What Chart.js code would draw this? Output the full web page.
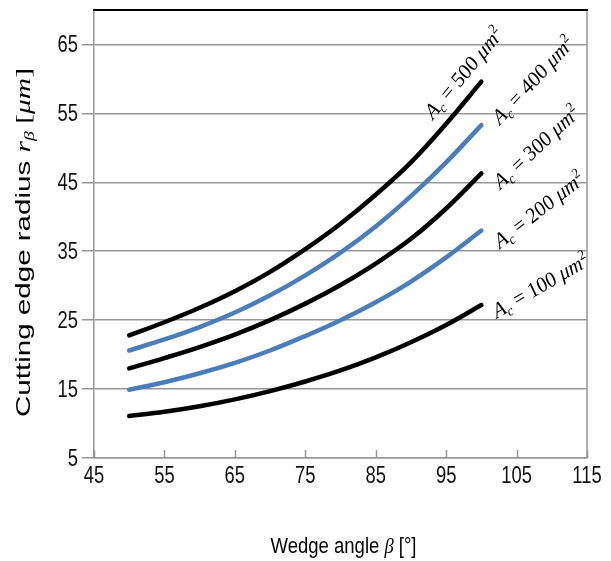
<!DOCTYPE html>
<html><head><meta charset="utf-8">
<script src="https://cdn.jsdelivr.net/npm/chart.js@4.4.1/dist/chart.umd.min.js"></script>
<style>html,body{margin:0;padding:0;background:#fff;}#wrap{width:611px;height:561px;}</style>
</head><body><div id="wrap"><canvas id="c" width="611" height="561"></canvas></div>
<script>
// ---- data ----
const wedgeAngles = [50,55,60,65,70,75,80,85,90,95,100];
const r500 = [22.8,24.7,26.8,29.2,32.0,35.3,39.0,43.2,47.9,53.5,59.6];
const r400 = [20.6,22.2,24.0,26.1,28.6,31.5,34.8,38.6,43.0,47.9,53.3];
const r300 = [18.0,19.5,21.1,22.9,25.0,27.4,30.1,33.2,36.8,41.2,46.3];
const r200 = [14.9,16.0,17.3,18.8,20.6,22.7,25.0,27.6,30.6,34.1,38.0];
const r100 = [11.1,11.7,12.5,13.5,14.7,16.1,17.7,19.6,21.8,24.3,27.2];
const areas = ['500','400','300','200','100'];
const xTicks = [45,55,65,75,85,95,105,115];
const yTicks = [5,15,25,35,45,55,65];

// ---- styling / annotation placement ----
const GRID = '#979797';
const BLUE = '#4A7EBB';
const SANS = "'Liberation Sans', Arial, sans-serif";
const SERIF = "'Liberation Serif', 'DejaVu Serif', serif";
const seriesList = [r500, r400, r300, r200, r100];
const colors = ['#000000', BLUE, '#000000', BLUE, '#000000'];
const STRETCH = 1.1;
const labelAnchors = [
  {x:93.1, y:54.0, rot:-47.3},
  {x:102.6, y:53.2, rot:-44.3},
  {x:102.7, y:43.9, rot:-40.3},
  {x:102.6, y:35.3, rot:-35.4},
  {x:102.2, y:25.2, rot:-27.7}
];

function drawParts(ctx, parts){
  let x = 0;
  parts.forEach(p => { ctx.font = p.f; ctx.fillText(p.t, x, p.dy || 0); x += ctx.measureText(p.t).width; });
  return x;
}
function measureParts(ctx, parts){
  let w = 0; parts.forEach(p => { ctx.font = p.f; w += ctx.measureText(p.t).width; }); return w;
}
function narrowText(ctx, text, x, y, align){
  ctx.save(); ctx.translate(x, y); ctx.scale(0.8, 1);
  ctx.font = '23px ' + SANS; ctx.textAlign = align; ctx.textBaseline = 'alphabetic';
  ctx.fillText(text, 0, 0); ctx.restore();
}

const framePlugin = {
  id: 'frame',
  beforeDatasetsDraw(chart){
    const {ctx, chartArea:a, scales:{x}} = chart;
    ctx.save();
    ctx.strokeStyle = GRID; ctx.lineWidth = 1.5;
    x.ticks.forEach(t => {
      const px = Math.round(x.getPixelForValue(t.value)) + 0.5;
      ctx.beginPath(); ctx.moveTo(px, a.bottom); ctx.lineTo(px, a.bottom - 8); ctx.stroke();
    });
    ctx.beginPath(); ctx.moveTo(a.right, a.top); ctx.lineTo(a.right, a.bottom); ctx.stroke();
    ctx.strokeStyle = '#000'; ctx.lineWidth = 2;
    ctx.beginPath(); ctx.moveTo(a.left - 1, a.top); ctx.lineTo(a.right + 1, a.top); ctx.stroke();
    ctx.restore();
  },
  afterDraw(chart){
    const {ctx, chartArea:a, scales:{x, y}} = chart;
    ctx.save();
    ctx.fillStyle = '#111';
    // tick labels
    x.ticks.forEach(t => narrowText(ctx, String(t.value), x.getPixelForValue(t.value), a.bottom + 25, 'center'));
    y.ticks.forEach(t => narrowText(ctx, String(t.value), a.left - 16, y.getPixelForValue(t.value) + 8, 'right'));
    ctx.fillStyle = '#000';
    ctx.textBaseline = 'alphabetic';
    ctx.textAlign = 'left';
    // curve labels
    areas.forEach((ac, i) => {
      const an = labelAnchors[i];
      const px = x.getPixelForValue(an.x), py = y.getPixelForValue(an.y);
      ctx.save();
      ctx.translate(px, py);
      ctx.scale(1, STRETCH);
      ctx.rotate(an.rot * Math.PI / 180);
      drawParts(ctx, [
        {t:'A', f:'italic 20px ' + SERIF},
        {t:'c', f:'italic 13px ' + SERIF, dy:4},
        {t:' = ' + ac + ' ', f:'20px ' + SERIF},
        {t:'μm', f:'italic 20px ' + SERIF},
        {t:'2', f:'13px ' + SERIF, dy:-8}
      ]);
      ctx.restore();
    });
    // y title
    const yParts = [
      {t:'Cutting edge radius ', f:'21px ' + SANS},
      {t:'r', f:'italic 21px ' + SERIF},
      {t:'β', f:'italic 14px ' + SERIF, dy:4},
      {t:' [', f:'21px ' + SERIF},
      {t:'μm', f:'italic 21px ' + SERIF},
      {t:']', f:'21px ' + SERIF}
    ];
    const yw = measureParts(ctx, yParts);
    ctx.save();
    ctx.translate(30, 417);
    ctx.rotate(-Math.PI / 2);
    ctx.scale(349 / yw, 1);
    drawParts(ctx, yParts);
    ctx.restore();
    // x title
    const xParts = [
      {t:'Wedge angle ', f:'22px ' + SANS},
      {t:'β', f:'italic 22px ' + SERIF},
      {t:' [°]', f:'22px ' + SANS}
    ];
    const xw = measureParts(ctx, xParts);
    const W = 146;
    ctx.save();
    ctx.translate((a.left + a.right) / 2 + 3 - W / 2, 553);
    ctx.scale(W / xw, 1);
    drawParts(ctx, xParts);
    ctx.restore();
    ctx.restore();
  }
};

const datasets = seriesList.map((s, i) => ({
  label: 'Ac = ' + areas[i] + ' μm²',
  data: wedgeAngles.map((b, j) => ({x: b, y: s[j]})),
  borderColor: colors[i],
  backgroundColor: colors[i],
  borderWidth: 4.5,
  pointRadius: 0,
  fill: false,
  tension: 0.4,
  borderCapStyle: 'round'
}));

new Chart(document.getElementById('c'), {
  type: 'line',
  data: { datasets },
  plugins: [framePlugin],
  options: {
    responsive: false, animation: false, devicePixelRatio: 1,
    layout: { padding: { left: 0, right: 24, top: 10, bottom: 0 } },
    plugins: { legend: { display: false }, tooltip: { enabled: false } },
    scales: {
      x: {
        type: 'linear', min: 45, max: 115,
        afterBuildTicks(s){ s.ticks = xTicks.map(v => ({value: v})); },
        afterFit(s){ s.height = 103; s.paddingLeft = 0; s.paddingRight = 0; },
        grid: { display: false, drawTicks: false },
        border: { display: true, color: GRID, width: 1.5 },
        ticks: { display: false }
      },
      y: {
        type: 'linear', min: 5, max: 70,
        afterBuildTicks(s){ s.ticks = yTicks.map(v => ({value: v})); },
        afterFit(s){ s.width = 94; s.paddingTop = 0; s.paddingBottom = 0; },
        grid: { color: GRID, lineWidth: 1.5, tickLength: 12, drawTicks: true },
        border: { display: true, color: GRID, width: 1.5 },
        ticks: { display: false }
      }
    }
  }
});
</script></body></html>
